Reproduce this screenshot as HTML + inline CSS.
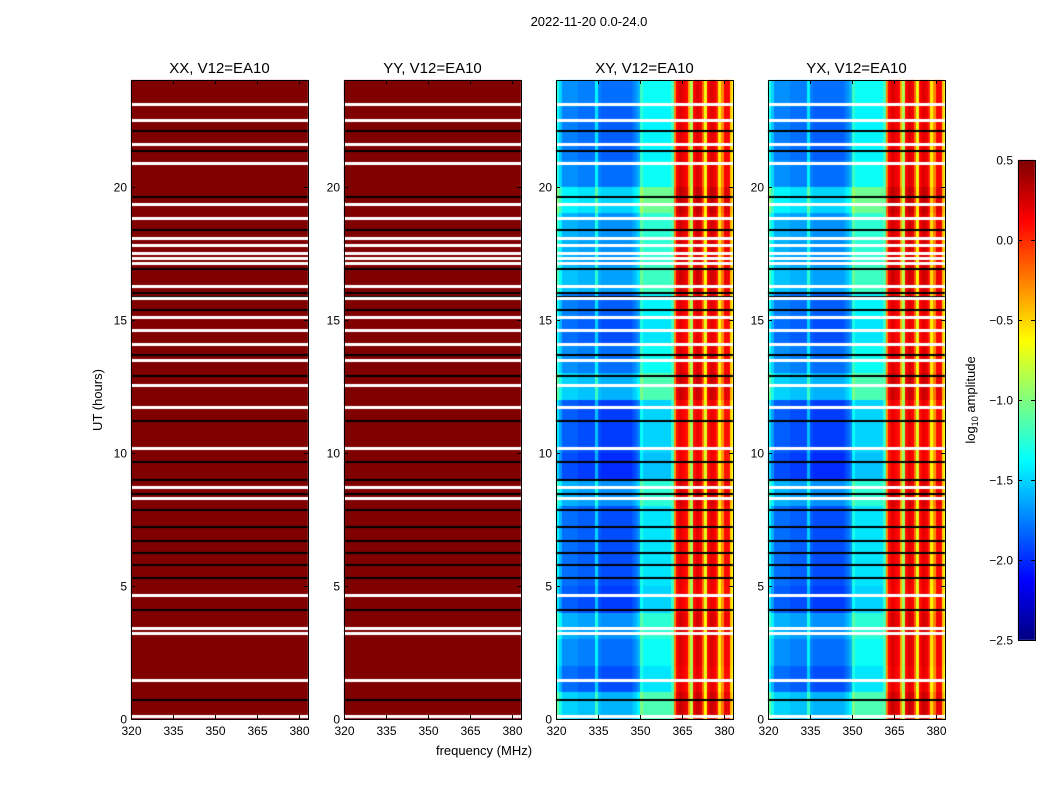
<!DOCTYPE html>
<html><head><meta charset="utf-8">
<style>
body{margin:0;background:#fff;width:1050px;height:800px;overflow:hidden;position:relative;font-family:"Liberation Sans",sans-serif;}
canvas{position:absolute;}
svg{position:absolute;left:0;top:0;}
</style></head>
<body>
<canvas id="cv" width="1050" height="800" style="left:0;top:0"></canvas>
<svg id="sv" width="1050" height="800"></svg>
<script>
// ---- data ----
const freqBins = [320,321,322,323,324,325,326,327,328,329,330,331,332,333,334,335,336,337,338,339,340,341,342,343,344,345,346,347,348,349,350,351,352,353,354,355,356,357,358,359,360,361,362,363,364,365,366,367,368,369,370,371,372,373,374,375,376,377,378,379,380,381,382,383];
const freqLevel = [-1.4,-1.6,-1.8,-1.8,-1.8,-1.8,-1.8,-1.8,-1.85,-1.85,-1.85,-1.85,-1.85,-1.85,-1.5,-1.85,-1.9,-1.9,-1.9,-1.9,-1.9,-1.9,-1.9,-1.9,-1.9,-1.9,-1.9,-1.85,-1.8,-1.7,-1.3,-1.45,-1.45,-1.45,-1.45,-1.45,-1.45,-1.45,-1.45,-1.45,-1.45,-1.2,-0.3,0.1,0.2,0.15,0.1,-0.4,-0.9,0.1,0.2,0.15,-0.2,-0.7,0.1,0.2,0.15,0.0,-0.6,-0.3,0.1,0.1,-0.5,-0.6];
const hourOffset = [0.3,0.0,0.1,0.2,-0.05,0,0,0,0.2,-0.1,-0.05,-0.05,0.3,0.1,0,0.05,0.25,0.2,0.2,0.4,0.1,0.05,0.05,0.1];
const whiteTimes = [23.08,22.48,21.58,20.9,19.36,18.8,18.05,17.79,17.52,17.3,17.11,16.25,15.8,15.08,14.6,14.07,13.47,12.53,11.71,10.17,8.7,8.29,4.65,3.41,3.23,1.46,0.11];
const blackTimes = [22.1,21.35,19.62,18.35,16.9,16.0,15.85,15.35,13.66,12.9,11.2,9.64,8.97,8.44,7.84,7.2,6.7,6.23,5.78,5.29,4.09,0.71];
const panelTitles = ["XX, V12=EA10","YY, V12=EA10","XY, V12=EA10","YX, V12=EA10"];
const panelLeft = [131,344,556,768];
const yTicks = [0,5,10,15,20];
const xTicks = [320,335,350,365,380];
const cbTicks = [0.5,0.0,-0.5,-1.0,-1.5,-2.0,-2.5];

// ---- geometry ----
const PW=177, PT=80, PB=719, FMIN=320, FMAX=383.2, TMAX=24;
const yOf = h => PB - h/TMAX*(PB-PT);
const xOf = (f,l) => l + (f-FMIN)/(FMAX-FMIN)*PW;
const CBT=160, CBB=640, CBL=1018, CBW=17, VMIN=-2.5, VMAX=0.5;
const cbY = v => CBB - (v-VMIN)/(VMAX-VMIN)*(CBB-CBT);

function jet(t){
  t=Math.max(0,Math.min(1,t));
  const f=x=>Math.max(0,Math.min(1,x));
  const r=f(1.5-Math.abs(4*t-3)), g=f(1.5-Math.abs(4*t-2)), b=f(1.5-Math.abs(4*t-1));
  return `rgb(${Math.round(r*255)},${Math.round(g*255)},${Math.round(b*255)})`;
}
const cv=document.getElementById('cv'), ctx=cv.getContext('2d');
const NS="http://www.w3.org/2000/svg", sv=document.getElementById('sv');
function mk(tag,attrs,txt){const e=document.createElementNS(NS,tag);for(const k in attrs)e.setAttribute(k,attrs[k]);if(txt!==undefined)e.textContent=txt;sv.appendChild(e);return e;}

panelLeft.forEach((L,p)=>{
  const cross = p>=2;
  for(let hi=0;hi<TMAX;hi++){
    const y0=Math.round(yOf(hi+1)), y1=Math.round(yOf(hi));
    for(let fi=0;fi<freqBins.length;fi++){
      let v;
      if(!cross) v=0.5;
      else { v=freqLevel[fi] + (freqBins[fi]<361?hourOffset[hi]:hourOffset[hi]*0.3); }
      ctx.fillStyle=jet((v-VMIN)/(VMAX-VMIN));
      const x0=Math.round(xOf(freqBins[fi],L)), x1=Math.min(L+PW,Math.round(xOf(freqBins[fi]+1,L)));
      if(x1>x0) ctx.fillRect(x0,y0,x1-x0,y1-y0);
    }
  }
  blackTimes.forEach(t=>{ctx.fillStyle='#000';ctx.fillRect(L,Math.round(yOf(t))-1,PW,2);});
  whiteTimes.forEach(t=>{ctx.fillStyle='#fff';ctx.fillRect(L,Math.round(yOf(t))-1,PW,3);});
  const fr=mk('rect',{x:L+0.5,y:PT+0.5,width:PW,height:PB-PT,fill:'none',stroke:'#000','stroke-width':1});
  
  
  const tt=mk('text',{x:L+PW/2,y:PT-7,'text-anchor':'middle','font-size':15},panelTitles[p]);
  
  
  yTicks.forEach(h=>{
    const y=Math.round(yOf(h))+0.5;
    mk('line',{x1:L,x2:L+4,y1:y,y2:y,stroke:'#000'});
    mk('line',{x1:L+PW-4,x2:L+PW,y1:y,y2:y,stroke:'#000'});
    const t=mk('text',{x:L-4,y:y+4,'text-anchor':'end','font-size':12},String(h));
    
    
  });
  xTicks.forEach(f=>{
    const x=Math.round(xOf(f,L))+0.5;
    mk('line',{x1:x,x2:x,y1:PB,y2:PB-4,stroke:'#000'});
    mk('line',{x1:x,x2:x,y1:PT,y2:PT+4,stroke:'#000'});
    const t=mk('text',{x:x,y:PB+16,'text-anchor':'middle','font-size':12},String(f));
    
    
  });
});

for(let y=CBT;y<CBB;y++){
  const v=VMIN+(CBB-y)/(CBB-CBT)*(VMAX-VMIN);
  ctx.fillStyle=jet((v-VMIN)/(VMAX-VMIN));
  ctx.fillRect(CBL,y,CBW,1);
}
const cbf=mk('rect',{x:CBL+0.5,y:CBT+0.5,width:CBW,height:CBB-CBT,fill:'none',stroke:'#000'});


cbTicks.forEach(v=>{
  const y=Math.round(cbY(v))+0.5;
  mk('line',{x1:CBL,x2:CBL+4,y1:y,y2:y,stroke:'#000'});
  mk('line',{x1:CBL+CBW-4,x2:CBL+CBW,y1:y,y2:y,stroke:'#000'});
  const t=mk('text',{x:CBL-5,y:y+4,'text-anchor':'end','font-size':12},(v<0?'\u2212':'')+Math.abs(v).toFixed(1));
  
  
});
</script>
<svg width="1050" height="800" style="position:absolute;left:0;top:0">
<text x="589" y="26" text-anchor="middle" font-size="13" font-family="Liberation Sans">2022-11-20 0.0-24.0</text>
<text x="484" y="755" text-anchor="middle" font-size="13" font-family="Liberation Sans">frequency (MHz)</text>
<text transform="translate(102,400) rotate(-90)" text-anchor="middle" font-size="13" font-family="Liberation Sans">UT (hours)</text>
<text transform="translate(975,400) rotate(-90)" text-anchor="middle" font-size="13" font-family="Liberation Sans">log<tspan font-size="9" dy="3">10</tspan><tspan dy="-3"> amplitude</tspan></text>
</svg>
</body></html>
